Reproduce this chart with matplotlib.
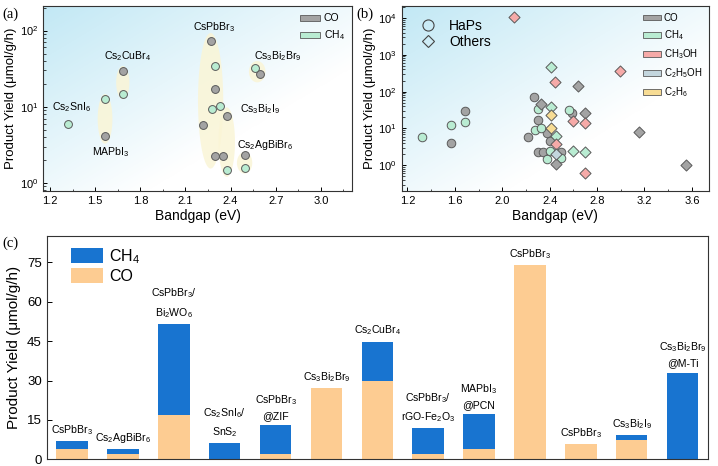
import numpy as np
import matplotlib
matplotlib.use("Agg")
import matplotlib.pyplot as plt
from matplotlib.patches import Patch
from matplotlib.lines import Line2D

plt.rcParams["font.family"] = ["Liberation Sans", "DejaVu Sans"]
plt.rcParams["mathtext.fontset"] = "custom"
plt.rcParams["mathtext.rm"] = "Liberation Sans"
plt.rcParams["mathtext.it"] = "Liberation Sans:italic"
plt.rcParams["mathtext.default"] = "regular"

# ---- (a) halide perovskites: bandgap vs yield ----
a_co_gap = [1.565, 1.683, 2.267, 2.298, 2.218, 2.298, 2.347, 2.376, 2.493, 2.593]
a_co_yield = [4.1, 29.5, 72.6, 17.0, 5.8, 2.25, 2.25, 7.6, 2.3, 26.7]
a_ch4_gap = [1.322, 1.565, 1.683, 2.298, 2.278, 2.327, 2.376, 2.493, 2.562]
a_ch4_yield = [5.9, 12.8, 14.8, 34.0, 9.2, 10.3, 1.46, 1.57, 32.6]
a_names = ["CsPbBr$_3$", "Cs$_2$CuBr$_4$", "Cs$_3$Bi$_2$Br$_9$", "Cs$_2$SnI$_6$",
           "MAPbI$_3$", "Cs$_3$Bi$_2$I$_9$", "Cs$_2$AgBiBr$_6$"]
a_name_x = [2.289, 1.716, 2.717, 1.344, 1.603, 2.595, 2.628]
a_name_y = [110, 46, 46, 10.0, 2.54, 9.3, 3.1]
# highlight blobs: center gap, center log10(yield), half width, half height (log)
blob_x = [1.565, 1.683, 2.267, 2.374, 2.493, 2.577]
blob_ly = [0.84, 1.317, 1.078, 0.535, 0.263, 1.46]
blob_w = [0.049, 0.044, 0.084, 0.055, 0.051, 0.055]
blob_h = [0.326, 0.217, 0.89, 0.457, 0.141, 0.14]

# ---- (b) HaPs + others ----
b_hap_co_gap = a_co_gap + [2.40]
b_hap_co_yield = a_co_yield + [4.7]
b_hap_ch4_gap = a_ch4_gap + [2.40]
b_hap_ch4_yield = a_ch4_yield + [2.37]
o_co_gap = [2.637, 2.33, 2.70, 2.45, 3.15, 3.55]
o_co_yield = [141, 47, 27, 1.1, 8.1, 1.0]
o_ch4_gap = [2.41, 2.41, 2.45, 2.60, 2.70]
o_ch4_yield = [478, 38, 6.4, 2.5, 2.27]
o_meoh_gap = [2.10, 2.447, 2.995, 2.60, 2.70, 2.45, 2.70]
o_meoh_yield = [10700, 178, 373, 16, 13.9, 3.8, 0.62]
o_etoh_gap = [2.45]
o_etoh_yield = [2.06]
o_c2h6_gap = [2.41, 2.41]
o_c2h6_yield = [23, 10.6]

# ---- (c) stacked yields ----
c_labels = ["CsPbBr$_3$", "Cs$_2$AgBiBr$_6$", "CsPbBr$_3$/\nBi$_2$WO$_6$",
            "Cs$_2$SnI$_6$/\nSnS$_2$", "CsPbBr$_3$\n@ZIF", "Cs$_3$Bi$_2$Br$_9$",
            "Cs$_2$CuBr$_4$", "CsPbBr$_3$/\nrGO-Fe$_2$O$_3$", "MAPbI$_3$\n@PCN",
            "CsPbBr$_3$", "CsPbBr$_3$", "Cs$_3$Bi$_2$I$_9$", "Cs$_3$Bi$_2$Br$_9$\n@M-Ti"]
c_co = [3.9, 2.0, 16.9, 0.0, 1.9, 27.0, 29.8, 1.9, 3.8, 74.0, 5.8, 7.4, 0.0]
c_ch4 = [2.95, 1.9, 34.7, 6.1, 11.0, 0.0, 15.0, 9.9, 13.3, 0.0, 0.0, 1.9, 33.0]

GRAY, GREEN, RED, STEEL, YELLOW = "#a3a3a3", "#b9ecd2", "#f6aaa8", "#c3d6de", "#f7dc94"
EDGE = "#5a5a5a"
BLUE, ORANGE = "#1874d0", "#fdcc92"


def gradient_bg(ax):
    n = 200
    xx, yy = np.meshgrid(np.linspace(0, 1, n), np.linspace(0, 1, n))
    t = (xx + yy) / 2  # row 0 is the top (origin="upper")
    k = np.clip(1 - 1.5 * t, 0, 1)[..., None]
    blue = np.array([0.76, 0.91, 0.96])
    img = 1 - k * (1 - blue)
    ax.imshow(img, extent=[0, 1, 0, 1], transform=ax.transAxes, origin="upper",
              aspect="auto", zorder=0, interpolation="bilinear")


def style_log(ax):
    ax.set_yscale("log")
    ax.tick_params(labelsize=8, direction="in", length=3, width=0.7)
    ax.tick_params(which="minor", direction="in", length=1.8, width=0.5)
    for s in ax.spines.values():
        s.set_linewidth(0.8)
        s.set_color("#333333")
    ax.set_xlabel("Bandgap (eV)", fontsize=10, labelpad=2)
    ax.set_ylabel("Product Yield (μmol/g/h)", fontsize=9.5, labelpad=2)


fig = plt.figure(figsize=(7.18, 4.66), dpi=100)

# ---- panel a ----
axa = fig.add_axes([0.060, 0.590, 0.430, 0.397])
gradient_bg(axa)
tt = np.linspace(0, 2 * np.pi, 120)
for xc, lc, hw, hh in zip(blob_x, blob_ly, blob_w, blob_h):
    axa.fill(xc + hw * np.cos(tt), 10 ** (lc + hh * np.sin(tt)), color="#faf5d6",
             alpha=0.85, lw=0, zorder=1)
axa.scatter(a_co_gap, a_co_yield, s=32, c=GRAY, edgecolors=EDGE, linewidths=0.7, zorder=3)
axa.scatter(a_ch4_gap, a_ch4_yield, s=32, c=GREEN, edgecolors=EDGE, linewidths=0.7, zorder=3)
for name, x, y in zip(a_names, a_name_x, a_name_y):
    axa.text(x, y, name, fontsize=7.6, ha="center", va="center", zorder=4)
style_log(axa)
axa.set_xlim(1.153, 3.206)
axa.set_ylim(0.78, 210)
axa.set_xticks(np.arange(1.2, 3.01, 0.3))
axa.set_xticks(np.arange(1.35, 3.2, 0.3), minor=True)
axa.xaxis.set_major_formatter(matplotlib.ticker.FormatStrFormatter("%.1f"))
axa.legend(handles=[Patch(fc=GRAY, ec=EDGE, lw=0.6, label="CO"),
                    Patch(fc=GREEN, ec=EDGE, lw=0.6, label="CH$_4$")],
           loc="upper right", frameon=False, fontsize=7.5, handlelength=2.0,
           handleheight=0.55, labelspacing=0.5, handletextpad=0.3,
           borderaxespad=0.3)

# ---- panel b ----
axb = fig.add_axes([0.5595, 0.590, 0.428, 0.397])
gradient_bg(axb)
axb.scatter(b_hap_co_gap, b_hap_co_yield, s=38, c=GRAY, edgecolors=EDGE, linewidths=0.7, zorder=3)
axb.scatter(b_hap_ch4_gap, b_hap_ch4_yield, s=38, c=GREEN, edgecolors=EDGE, linewidths=0.7, zorder=3)
for gx, gy, col in [(o_co_gap, o_co_yield, GRAY), (o_ch4_gap, o_ch4_yield, GREEN),
                    (o_meoh_gap, o_meoh_yield, RED), (o_etoh_gap, o_etoh_yield, STEEL),
                    (o_c2h6_gap, o_c2h6_yield, YELLOW)]:
    axb.scatter(gx, gy, s=32, marker="D", c=col, edgecolors=EDGE, linewidths=0.7, zorder=4)
style_log(axb)
axb.set_xlim(1.152, 3.745)
axb.set_ylim(0.2, 2.1e4)
axb.set_xticks(np.arange(1.2, 3.61, 0.4))
axb.set_xticks(np.arange(1.4, 3.7, 0.4), minor=True)
axb.xaxis.set_major_formatter(matplotlib.ticker.FormatStrFormatter("%.1f"))
leg1 = axb.legend(handles=[Patch(fc=c, ec=EDGE, lw=0.6, label=l) for c, l in
                           [(GRAY, "CO"), (GREEN, "CH$_4$"), (RED, "CH$_3$OH"),
                            (STEEL, "C$_2$H$_5$OH"), (YELLOW, "C$_2$H$_6$")]],
                  loc="upper right", frameon=False, fontsize=7, handlelength=1.9,
                  handleheight=0.5, labelspacing=0.55, handletextpad=0.3,
                  borderaxespad=0.3)
axb.add_artist(leg1)
axb.legend(handles=[Line2D([], [], ls="", marker="o", ms=8, mfc="none", mec="#444444", mew=0.8, label="HaPs"),
                    Line2D([], [], ls="", marker="D", ms=6.5, mfc="none", mec="#444444", mew=0.8, label="Others")],
           loc="upper left", frameon=False, fontsize=10, handletextpad=0.5,
           labelspacing=0.15, borderaxespad=0.5)

# ---- panel c ----
axc = fig.add_axes([0.065, 0.0144, 0.921, 0.479])
xs = np.arange(len(c_labels))
axc.bar(xs, c_co, width=0.62, color=ORANGE, zorder=2)
axc.bar(xs, c_ch4, width=0.62, bottom=c_co, color=BLUE, zorder=2)
for x, lab, top in zip(xs, c_labels, np.add(c_co, c_ch4)):
    axc.annotate(lab, (x, top), xytext=(0, 3), textcoords="offset points",
                 ha="center", va="bottom", fontsize=7.6, linespacing=1.55)
axc.set_xlim(-0.5, 12.5)
axc.set_ylim(0, 85)
axc.set_yticks(np.arange(0, 76, 15))
axc.set_xticks([])
axc.tick_params(axis="y", labelsize=9.5, direction="in", length=3.5, width=0.7)
for s in axc.spines.values():
    s.set_linewidth(0.8)
    s.set_color("#333333")
axc.set_ylabel("Product Yield (μmol/g/h)", fontsize=11, labelpad=4)
axc.legend(handles=[Patch(fc=BLUE, label="CH$_4$"), Patch(fc=ORANGE, label="CO")],
           loc="upper left", frameon=False, fontsize=11.5, handlelength=2.0,
           handleheight=1.1, labelspacing=0.12, handletextpad=0.4,
           borderaxespad=0.3, bbox_to_anchor=(0.02, 1.0))

# panel tags
for x, y, tag in [(0.004, 0.983, "(a)"), (0.496, 0.983, "(b)"), (0.004, 0.492, "(c)")]:
    fig.text(x, y, tag, fontsize=10.5, family="Liberation Serif", va="top")

fig.savefig("out.png", dpi=100)
